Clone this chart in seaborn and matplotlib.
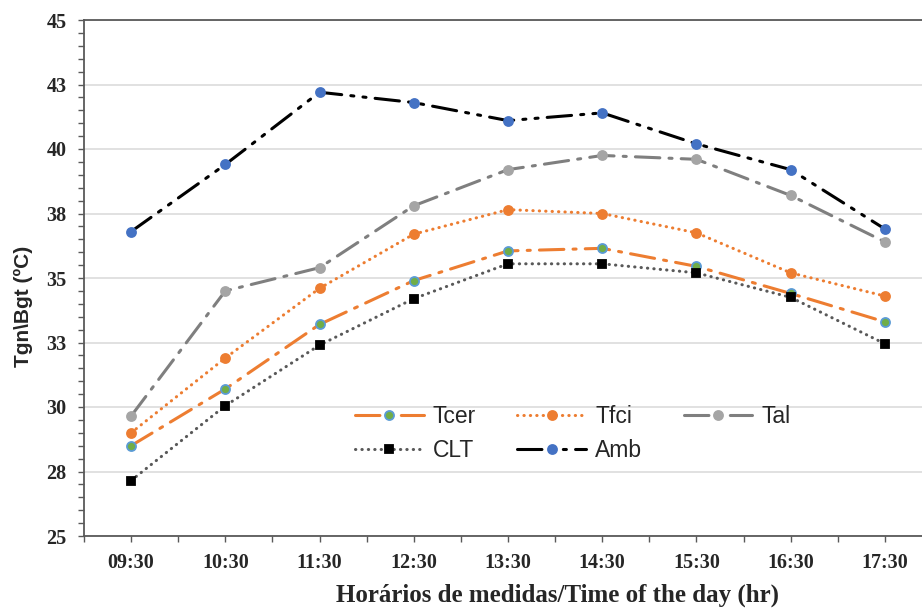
import matplotlib
matplotlib.use("Agg")
import matplotlib.pyplot as plt
from matplotlib.ticker import MultipleLocator, FuncFormatter, FixedLocator
import numpy as np
import pandas as pd
import seaborn as sns

# readings per hour (ºC)
times = ['09:30', '10:30', '11:30', '12:30', '13:30', '14:30', '15:30', '16:30', '17:30']
tcer = [28.5, 30.7, 33.2, 34.9, 36.05, 36.15, 35.45, 34.4, 33.3]
tfci = [29.0, 31.9, 34.6, 36.7, 37.65, 37.5, 36.75, 35.2, 34.3]
tal = [29.65, 34.5, 35.4, 37.8, 39.2, 39.75, 39.6, 38.2, 36.4]
clt = [27.15, 30.05, 32.4, 34.2, 35.55, 35.55, 35.2, 34.25, 32.45]
amb = [36.8, 39.4, 42.2, 41.8, 41.1, 41.4, 40.2, 39.2, 36.9]

df = pd.DataFrame({'time': times, 'Tcer': tcer, 'Tfci': tfci, 'Tal': tal, 'CLT': clt, 'Amb': amb})

sns.set_style("white")
plt.rcParams['font.family'] = ['Liberation Sans', 'DejaVu Sans']

fig = plt.figure(figsize=(9.22, 6.10), dpi=100)
ax = fig.add_axes([84/922, 1-536/610, 848/922, 516/610])

# excel-like line styles: (line colour, dash pattern, marker, face, edge)
styles = {
    'Tcer': ('#ED7D31', (8, 3, 1, 3), 'o', '#70AD47', '#5B9BD5'),
    'Tfci': ('#ED7D31', (0.1, 2), 'o', '#ED7D31', '#ED7D31'),
    'Tal':  ('#7F7F7F', (8, 3, 1, 3), 'o', '#A5A5A5', '#A5A5A5'),
    'CLT':  ('#595959', (0.1, 2), 's', 'black', 'black'),
    'Amb':  ('black', (8, 3, 1, 3, 1, 3), 'o', '#4472C4', '#4472C4'),
}

for name in ['Tcer', 'Tfci', 'Tal', 'CLT', 'Amb']:
    c, pat, m, fc, ec = styles[name]
    sns.lineplot(data=df, x='time', y=name, ax=ax, color=c, lw=2.2,
                 linestyle=(0, pat), dash_capstyle='round',
                 marker=m, markersize=6.5 if m == 'o' else 5.5,
                 markerfacecolor=fc, markeredgecolor=ec,
                 markeredgewidth=1.3, label=name, sort=False)

ax.set_xlim(-0.5, len(times) - 0.5)
ax.set_ylim(25, 45)
ax.yaxis.set_major_locator(MultipleLocator(2.5))
ax.yaxis.set_minor_locator(MultipleLocator(0.5))
ax.yaxis.set_major_formatter(FuncFormatter(lambda v, p: '%d' % np.floor(v + 0.5)))
ax.xaxis.set_minor_locator(FixedLocator(np.arange(-0.5, len(times), 1.0)))

ax.grid(axis='y', which='major', color='#D9D9D9', lw=1.1)
ax.grid(axis='x', visible=False)
for s in ['left', 'bottom', 'top']:
    ax.spines[s].set_color('#595959')
    ax.spines[s].set_linewidth(1.3)
ax.spines['right'].set_visible(False)

ax.tick_params(axis='both', which='both', direction='out', color='#595959',
               length=4.5, width=1.0, left=True, bottom=True)
ax.tick_params(axis='y', which='major', pad=8)
ax.tick_params(axis='x', which='major', pad=7.5)
for lab in ax.get_xticklabels() + ax.get_yticklabels():
    lab.set_family('Liberation Serif')
    lab.set_weight('bold')
    lab.set_fontsize(14.5)

ax.set_xlabel('Horários de medidas/Time of the day (hr)', family='Liberation Serif',
              fontweight='bold', fontsize=18, va='center')
ax.xaxis.set_label_coords((557-84)/848, (536-595)/516)
ax.set_ylabel('Tgn\\Bgt (ºC)', fontweight='bold', fontsize=15, va='center')
ax.yaxis.set_label_coords((23-84)/848, (536-306)/516)

h, l = ax.get_legend_handles_labels()
order = ['Tcer', 'CLT', 'Tfci', 'Amb', 'Tal']
hm = dict(zip(l, h))
ax.legend([hm[k] for k in order], order, ncol=3, frameon=False, fontsize=16.5,
          loc='upper left', bbox_to_anchor=(355/922, 1-405/610), bbox_transform=fig.transFigure,
          borderpad=0, borderaxespad=0, handlelength=3.0, handletextpad=0.4,
          columnspacing=1.8, labelspacing=0.5, numpoints=1)

fig.savefig('out.png', dpi=100)
